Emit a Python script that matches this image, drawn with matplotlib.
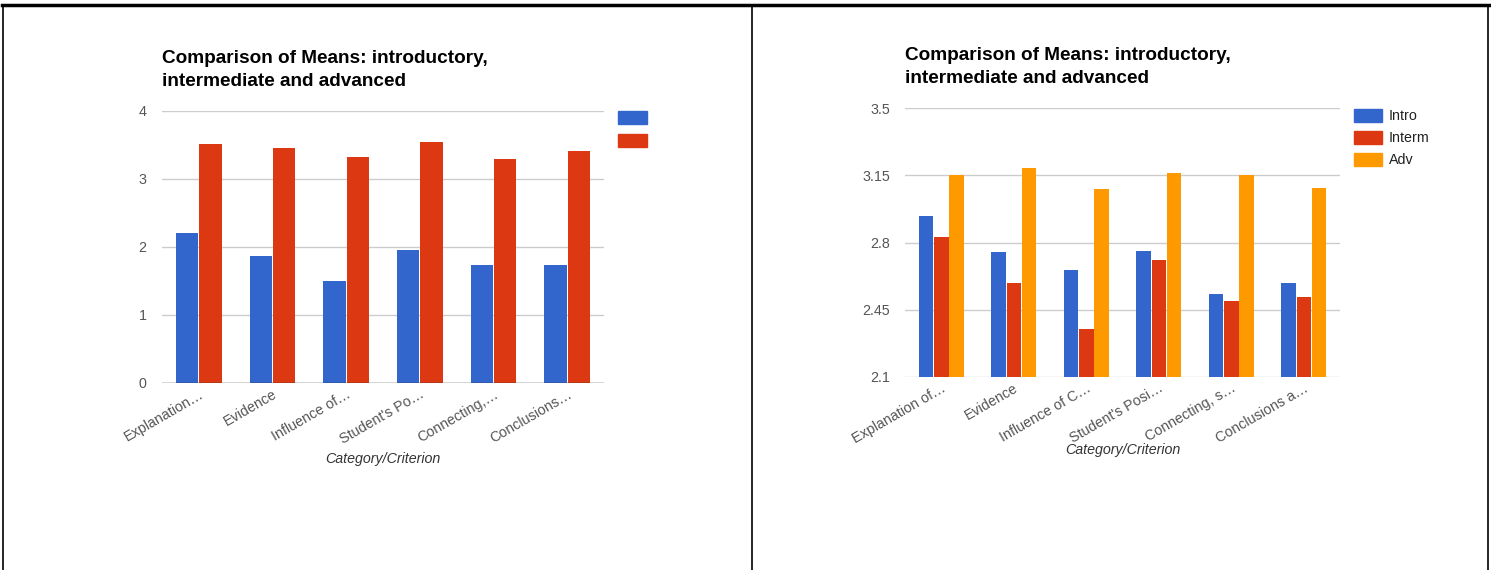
import matplotlib
matplotlib.use("Agg")
import matplotlib.pyplot as plt
from matplotlib.lines import Line2D
from matplotlib.patches import Rectangle
import numpy as np

plt.rcParams['font.family'] = ['Liberation Sans', 'DejaVu Sans']

# data
cats_left = ["Explanation…", "Evidence", "Influence of…", "Student's Po…",
             "Connecting,…", "Conclusions…"]
cats_right = ["Explanation of…", "Evidence", "Influence of C…", "Student's Posi…",
              "Connecting, s…", "Conclusions a…"]
left_blue = [2.20, 1.87, 1.50, 1.95, 1.73, 1.74]
left_red = [3.52, 3.45, 3.32, 3.55, 3.30, 3.41]

intro = [2.938, 2.749, 2.656, 2.756, 2.530, 2.590]
interm = [2.827, 2.590, 2.352, 2.707, 2.498, 2.517]
adv = [3.149, 3.189, 3.079, 3.164, 3.149, 3.084]

left_ticks = [0, 1, 2, 3, 4]
right_ticks = [2.1, 2.45, 2.8, 3.15, 3.5]
right_ticklabels = ["2.1", "2.45", "2.8", "3.15", "3.5"]

title = "Comparison of Means: introductory,\nintermediate and advanced"
xlabel = "Category/Criterion"

BLUE = "#3366cc"
RED = "#dc3912"
ORANGE = "#ff9900"
GRID = "#cccccc"

W, H = 1491, 570
fig = plt.figure(figsize=(W / 100, H / 100), dpi=100)


def px_axes(x0, y0, x1, y1):
    return fig.add_axes([x0 / W, 1 - y1 / H, (x1 - x0) / W, (y1 - y0) / H])


def style(ax, ticks, labels, cats, ymin, ymax, baseline):
    ax.set_xlim(-0.5, len(cats) - 0.5)
    ax.set_ylim(ymin, ymax)
    ax.set_yticks(ticks)
    ax.set_yticklabels(labels, fontsize=10.3, color="#555555")
    ax.set_xticks(np.arange(len(cats)))
    ax.set_xticklabels(cats, fontsize=10.3, color="#555555", rotation=30,
                       ha="right", rotation_mode="anchor")
    ax.tick_params(length=0, axis="y", pad=11)
    ax.tick_params(length=0, axis="x", pad=3)
    for s in ax.spines.values():
        s.set_visible(False)
    for t in ticks:
        c = "#333333" if (baseline and t == 0) else GRID
        ax.axhline(t, color=c, lw=1, zorder=0 if c == GRID else 3)


# left chart
ax1 = px_axes(162, 111, 604, 383)
x = np.arange(len(cats_left))
bw = 0.305
ax1.bar(x - bw / 2 - 0.005, left_blue, bw, color=BLUE, zorder=2)
ax1.bar(x + bw / 2 + 0.005, left_red, bw, color=RED, zorder=2)
style(ax1, left_ticks, [str(t) for t in left_ticks], cats_left, 0, 4, True)
fig.text(383 / W, 1 - 459 / H, xlabel, fontsize=10.3, style="italic",
         color="#333333", ha="center", va="center")
fig.text(162 / W, 1 - 70 / H, title, fontsize=13.7, fontweight="bold",
         va="center", ha="left", linespacing=1.4)
for i, c in enumerate([BLUE, RED]):
    fig.add_artist(Rectangle((618 / W, 1 - (124 + 23 * i) / H), 29 / W, 13 / H,
                             color=c, transform=fig.transFigure))

# right chart
ax2 = px_axes(905, 108, 1340, 377)
bw = 0.2
ax2.bar(x - bw - 0.01, intro, bw, color=BLUE, zorder=2)
ax2.bar(x, interm, bw, color=RED, zorder=2)
ax2.bar(x + bw + 0.01, adv, bw, color=ORANGE, zorder=2)
style(ax2, right_ticks, right_ticklabels, cats_right, 2.1, 3.5, False)
fig.text(1123 / W, 1 - 450 / H, xlabel, fontsize=10.3, style="italic",
         color="#333333", ha="center", va="center")
fig.text(905 / W, 1 - 67 / H, title, fontsize=13.7, fontweight="bold",
         va="center", ha="left", linespacing=1.4)
for i, (c, lab) in enumerate(zip([BLUE, RED, ORANGE], ["Intro", "Interm", "Adv"])):
    fig.add_artist(Rectangle((1354 / W, 1 - (122 + 22 * i) / H), 28 / W, 13 / H,
                             color=c, transform=fig.transFigure))
    fig.text(1389 / W, 1 - (115.5 + 22 * i) / H, lab, fontsize=10.3,
             color="#222222", va="center", ha="left")

# page borders
for (xs, ys, lw) in [((2, 1489), (5, 5), 2.5), ((3, 3), (5, 570), 1.2),
                     ((752, 752), (5, 570), 1.2), ((1488, 1488), (5, 570), 1.2)]:
    fig.add_artist(Line2D([v / W for v in xs], [1 - v / H for v in ys],
                          color="black", lw=lw, transform=fig.transFigure))

fig.savefig("out.png", dpi=100, facecolor="white")
